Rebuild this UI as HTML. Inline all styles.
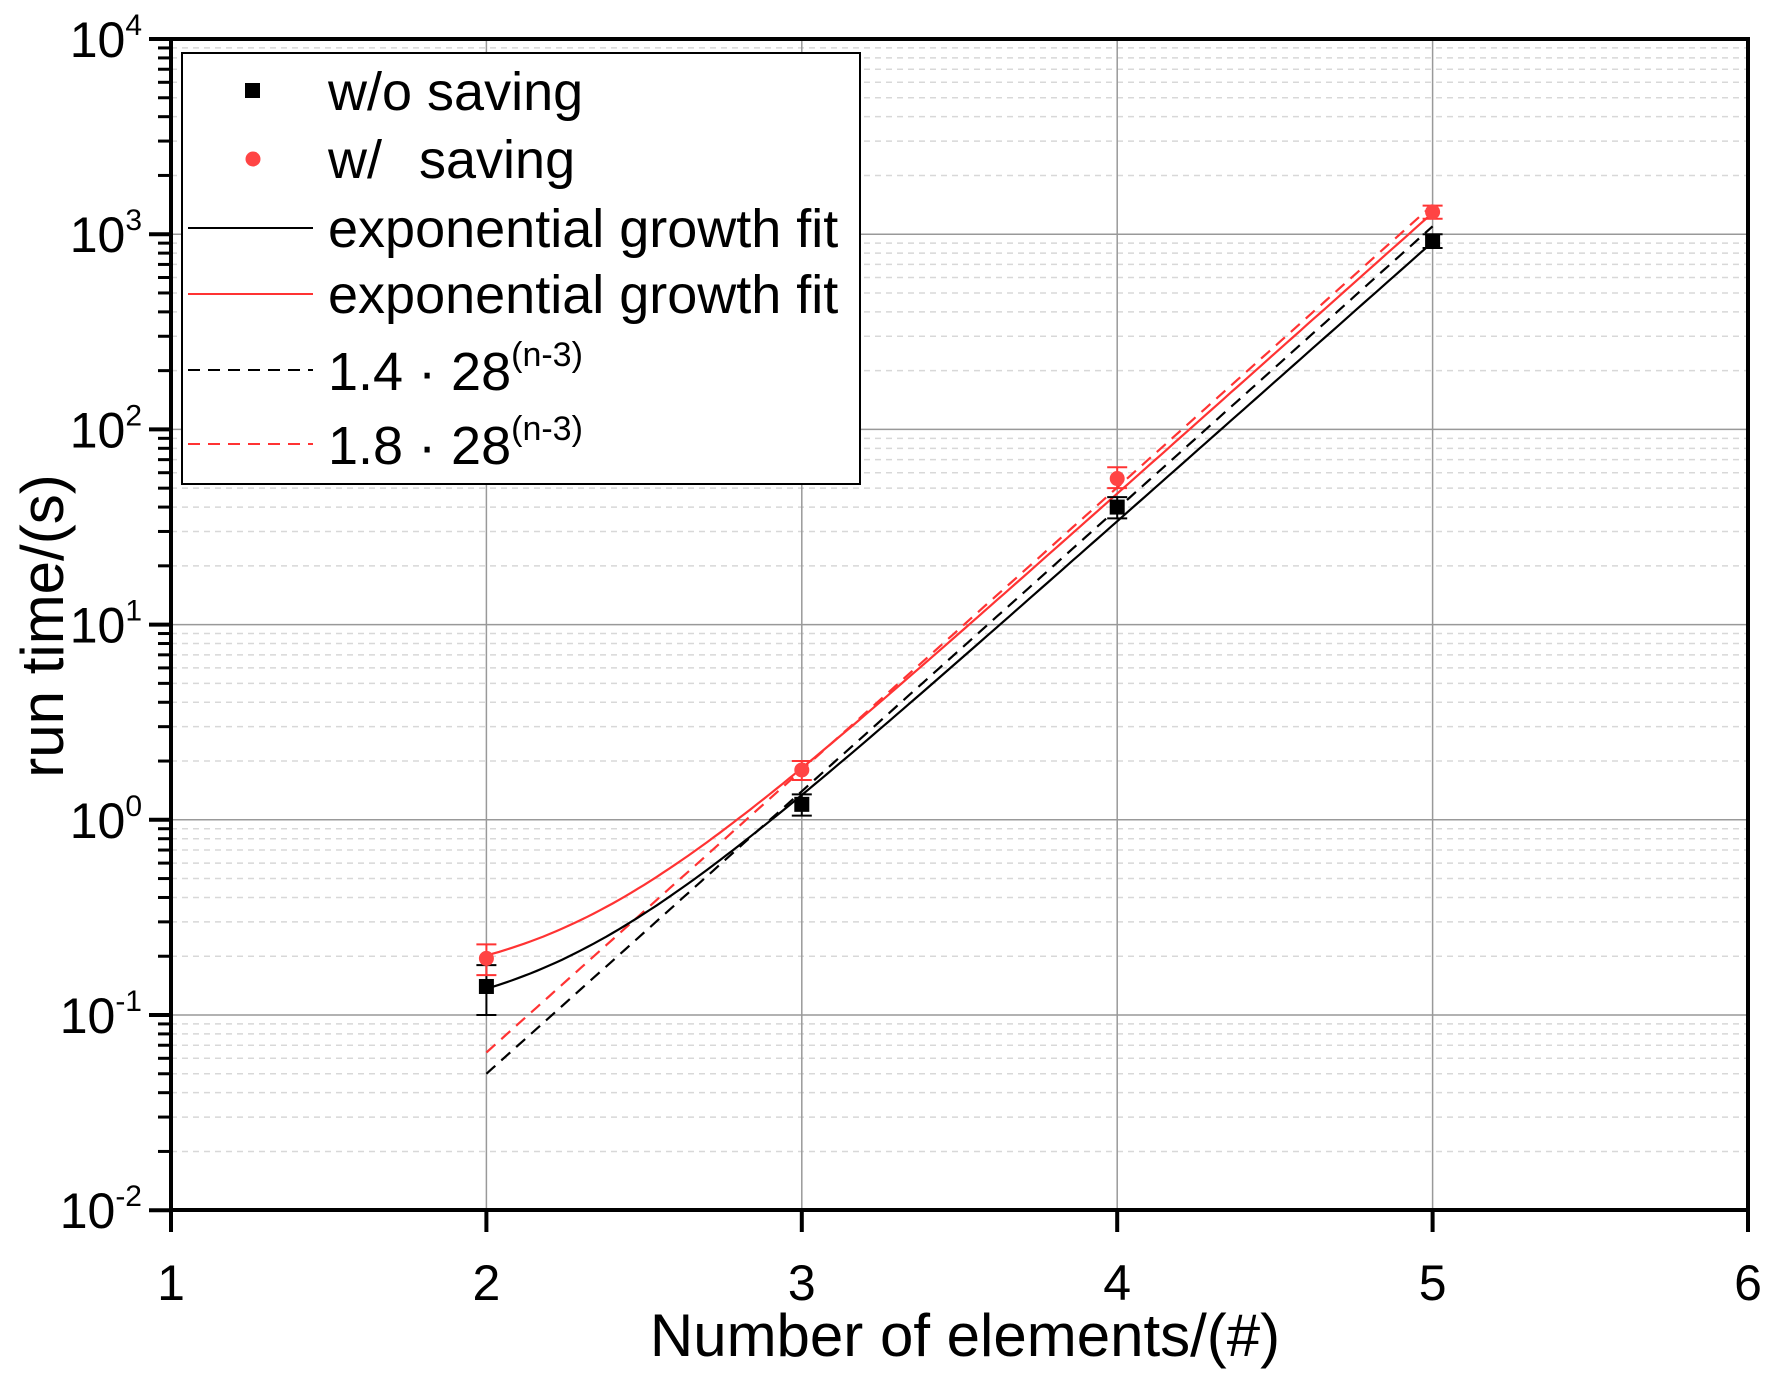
<!DOCTYPE html>
<html><head><meta charset="utf-8"><style>
html,body{margin:0;padding:0;background:#fff}
svg{display:block;font-family:"Liberation Sans",Arial,sans-serif}
</style></head><body>
<svg id="s" width="1776" height="1376" viewBox="0 0 1776 1376" xmlns="http://www.w3.org/2000/svg">
<g id="grid"></g>
<g id="series"></g>
<g id="axes"></g>
<g id="legend">
<rect x="182" y="53" width="678" height="431" fill="#fff" stroke="#000" stroke-width="2"/>
<rect x="245" y="83" width="15" height="15" fill="#000"/>
<circle cx="253" cy="159" r="7.5" fill="#f44"/>
<line x1="188" y1="228" x2="313" y2="228" stroke="#000" stroke-width="2"/>
<line x1="188" y1="294" x2="313" y2="294" stroke="#f33" stroke-width="2"/>
<line x1="188" y1="370" x2="313" y2="370" stroke="#000" stroke-width="2" stroke-dasharray="12,8"/>
<line x1="188" y1="444" x2="313" y2="444" stroke="#f33" stroke-width="2" stroke-dasharray="12,8"/>
<g font-size="54" fill="#000">
<text x="328" y="110">w/o saving</text>
<text x="328" y="178">w/ <tspan dx="22">saving</tspan></text>
<text x="328" y="247">exponential growth fit</text>
<text x="328" y="313">exponential growth fit</text>
<text x="328" y="390">1.4 · 28<tspan font-size="34" dy="-24">(n-3)</tspan></text>
<text x="328" y="464">1.8 · 28<tspan font-size="34" dy="-24">(n-3)</tspan></text>
</g>
</g>
<g id="labels" fill="#000"></g>
</svg>
<script>
const NS="http://www.w3.org/2000/svg";
const X=n=>171+(n-1)*315.4, Y=v=>39+(4-Math.log10(v))*195.2;
function el(p,t,a,txt){const e=document.createElementNS(NS,t);for(const k in a)e.setAttribute(k,a[k]);if(txt!==undefined)e.textContent=txt;document.getElementById(p).appendChild(e);return e;}
for(let d=-2;d<4;d++)for(let m=2;m<10;m++){const y=Y(m*Math.pow(10,d));el("grid","line",{x1:171,x2:1748,y1:y,y2:y,stroke:"#d8d8d8","stroke-width":1.5,"stroke-dasharray":"6,5"});}
for(let d=-1;d<4;d++){const y=Y(Math.pow(10,d));el("grid","line",{x1:171,x2:1748,y1:y,y2:y,stroke:"#999","stroke-width":1.5});}
for(let n=2;n<=5;n++)el("grid","line",{x1:X(n),x2:X(n),y1:39,y2:1210,stroke:"#999","stroke-width":1.5});
function curve(f,col,dash){let p=[];for(let n=2;n<=5.001;n+=0.02)p.push(X(n).toFixed(1)+","+Y(f(n)).toFixed(1));const a={points:p.join(" "),fill:"none",stroke:col,"stroke-width":2.2};if(dash)a["stroke-dasharray"]=dash;el("series","polyline",a);}
curve(n=>1.4*Math.pow(28,n-3),"#000","12,8");
curve(n=>1.8*Math.pow(28,n-3),"#f33","12,8");
curve(n=>0.09+1.25*Math.pow(27,n-3),"#000");
curve(n=>0.14+1.7*Math.pow(27.5,n-3),"#f33");
const B=[[2,0.14,0.1,0.18],[3,1.2,1.05,1.35],[4,40,35,45],[5,920,850,1000]];
const R=[[2,0.195,0.16,0.23],[3,1.8,1.6,2.0],[4,56,50,64],[5,1300,1200,1400]];
function eb(d,col){for(const [n,v,lo,hi] of d){const x=X(n);el("series","line",{x1:x,x2:x,y1:Y(lo),y2:Y(hi),stroke:col,"stroke-width":2});for(const u of[lo,hi])el("series","line",{x1:x-10,x2:x+10,y1:Y(u),y2:Y(u),stroke:col,"stroke-width":2});}}
eb(B,"#000");eb(R,"#f33");
for(const [n,v] of B)el("series","rect",{x:X(n)-7.5,y:Y(v)-7.5,width:15,height:15,fill:"#000"});
for(const [n,v] of R)el("series","circle",{cx:X(n),cy:Y(v),r:7.5,fill:"#f44"});
el("axes","rect",{x:171,y:39,width:1577,height:1171,fill:"none",stroke:"#000","stroke-width":4});
for(let n=1;n<=6;n++){el("axes","line",{x1:X(n),x2:X(n),y1:1210,y2:1232,stroke:"#000","stroke-width":4});
el("labels","text",{x:X(n),y:1300,"font-size":50,"text-anchor":"middle"},String(n));}
for(let d=-2;d<=4;d++){const y=Y(Math.pow(10,d));el("axes","line",{x1:149,x2:171,y1:y,y2:y,stroke:"#000","stroke-width":4});
const t=el("labels","text",{x:142,y:y+18,"font-size":50,"text-anchor":"end"});t.textContent="10";const s=document.createElementNS(NS,"tspan");s.setAttribute("font-size","30");s.setAttribute("dy","-22");s.textContent=String(d);t.appendChild(s);}
for(let d=-2;d<4;d++)for(let m=2;m<10;m++){const y=Y(m*Math.pow(10,d));el("axes","line",{x1:158,x2:171,y1:y,y2:y,stroke:"#000","stroke-width":3});}
el("labels","text",{x:965,y:1356,"font-size":60,"text-anchor":"middle"},"Number of elements/(#)");
el("labels","text",{x:63,y:626,"font-size":60,"text-anchor":"middle",transform:"rotate(-90 63 626)"},"run time/(s)");
document.getElementById("s").appendChild(document.getElementById("legend"));
</script>
</body></html>
